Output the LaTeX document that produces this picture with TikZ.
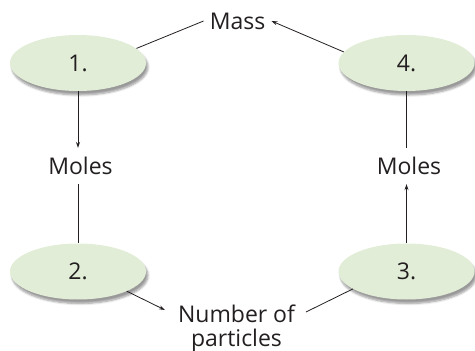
\documentclass[tikz,border=0pt]{standalone}
\usepackage{fontspec}
\setmainfont{Open Sans}
\usetikzlibrary{arrows.meta,shapes.geometric,shadows.blur}
\definecolor{ellfill}{RGB}{225,237,214}
\definecolor{ink}{RGB}{35,31,32}
\begin{document}
\begin{tikzpicture}[x=1pt,y=-1pt,
  every node/.style={text=ink,font=\fontsize{23}{24}\selectfont},
  ell/.style={ellipse,fill=ellfill,minimum width=136pt,minimum height=56pt,inner sep=0pt,
    blur shadow={shadow blur steps=6,shadow xshift=2pt,shadow yshift=-4pt,shadow opacity=40}},
  lbl/.style={inner xsep=6pt,inner ysep=10pt,text height=16pt,text depth=0pt},
  conn/.style={draw=ink,line width=0.8pt},
  arr/.style={conn,-{Stealth[length=6pt,width=4pt]}}]
\useasboundingbox (0,0) rectangle (475,351);
\node[ell] (e1) at (78,63) {1.};
\node[ell] (e4) at (406.5,63) {4.};
\node[ell] (e2) at (78,271.5) {2.};
\node[ell] (e3) at (406.5,271.5) {3.};
\node[lbl] (mass) at (237.5,21) {Mass};
\node[lbl] (mol1) at (80.5,166) {Moles};
\node[lbl] (mol2) at (409,166) {Moles};
\node[align=center,inner sep=0pt] (num) at (236.5,328) {Number of\\particles};
\coordinate (numL) at (165,310);
\coordinate (numR) at (306,312);
\draw[conn] (e1.14.5) -- (mass.west);
\draw[arr] (e4.170) -- (mass.east);
\draw[arr] (e1.south) -- (e1.south |- mol1.north);
\draw[conn] (e2.north |- mol1.south) -- (e2.north);
\draw[arr] (e3.north) -- (e3.north |- mol2.south);
\draw[conn] (e4.south |- mol2.north) -- (e4.south);
\draw[arr] (e2.-22) -- (numL);
\draw[conn] (e3.198) -- (numR);
\end{tikzpicture}
\end{document}
